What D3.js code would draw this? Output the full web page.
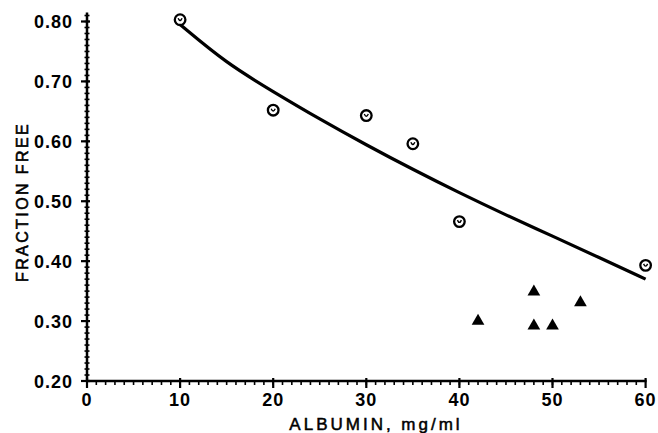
<!DOCTYPE html>
<html>
<head>
<meta charset="utf-8">
<script src="https://cdn.jsdelivr.net/npm/d3@7"></script>
<style>
  body { margin: 0; background: #fff; }
  text { font-family: "Liberation Sans", Arial, sans-serif; fill: #000; }
</style>
</head>
<body>
<div id="chart"></div>
<script>
// données
const albuminFree = [10, 20, 30, 35, 40, 60];
const fractionFree = [0.803, 0.652, 0.643, 0.596, 0.466, 0.393];

const albuminTri = [42, 48, 48, 50, 53];
const fractionTri = [0.300, 0.349, 0.292, 0.292, 0.331];

// courbe ajustée, points
const curveX = [10, 15, 20, 25, 30, 35, 40, 45, 50, 55, 60];
const curveY = [0.795, 0.730, 0.683, 0.637, 0.594, 0.553, 0.514, 0.477, 0.442, 0.406, 0.370];

const xTicks = [0, 10, 20, 30, 40, 50, 60];
const yTicks = [0.20, 0.30, 0.40, 0.50, 0.60, 0.70, 0.80];

const svg = d3.select("#chart").append("svg")
    .attr("width", 658).attr("height", 433);

const x = d3.scaleLinear().domain([0, 60]).range([87, 645.6]);
const y = d3.scaleLinear().domain([0.2, 0.8]).range([381, 21.5]);

// axe Y
const yAxis = svg.append("g").attr("transform", "translate(" + x(0) + ",0)");
yAxis.append("line")
    .attr("x1", 0).attr("x2", 0).attr("y1", y(0.2)).attr("y2", y(0.815))
    .attr("stroke", "black").attr("stroke-width", 2.5);
yAxis.selectAll("line.minor")
    .data(d3.range(21, 82).map(d => d / 100))
    .enter().append("line").attr("class", "minor")
    .attr("x1", -2.5).attr("x2", 2.5)
    .attr("y1", d => y(d)).attr("y2", d => y(d))
    .attr("stroke", "black").attr("stroke-width", 1.6);
yAxis.selectAll("line.major")
    .data(yTicks).enter().append("line").attr("class", "major")
    .attr("x1", -6).attr("x2", 3)
    .attr("y1", d => y(d)).attr("y2", d => y(d))
    .attr("stroke", "black").attr("stroke-width", 2.2);
yAxis.selectAll("text")
    .data(yTicks).enter().append("text")
    .attr("x", -14).attr("y", d => y(d) + 6.5)
    .attr("text-anchor", "end")
    .style("font-size", "18px").style("font-weight", "bold").style("letter-spacing", "1px")
    .text(d => d3.format(".2f")(d));

// axe X
const xAxis = svg.append("g").attr("transform", "translate(0," + y(0.2) + ")");
xAxis.append("line")
    .attr("x1", x(0) - 1).attr("x2", x(60) + 1).attr("y1", 0).attr("y2", 0)
    .attr("stroke", "black").attr("stroke-width", 2.5);
xAxis.selectAll("line.minor")
    .data(d3.range(1, 60)).enter().append("line").attr("class", "minor")
    .attr("x1", d => x(d)).attr("x2", d => x(d))
    .attr("y1", 0).attr("y2", 4)
    .attr("stroke", "black").attr("stroke-width", 1.6);
xAxis.selectAll("line.major")
    .data(xTicks).enter().append("line").attr("class", "major")
    .attr("x1", d => x(d)).attr("x2", d => x(d))
    .attr("y1", -3).attr("y2", 7)
    .attr("stroke", "black").attr("stroke-width", 2.2);
xAxis.selectAll("text")
    .data(xTicks).enter().append("text")
    .attr("x", d => x(d)).attr("y", 25)
    .attr("text-anchor", "middle")
    .style("font-size", "18px").style("font-weight", "bold").style("letter-spacing", "1px")
    .text(d => d);

// titres des axes
svg.append("text")
    .attr("x", 376).attr("y", 430)
    .attr("text-anchor", "middle")
    .style("font-size", "17px").style("letter-spacing", "3px")
    .attr("stroke", "black").attr("stroke-width", 0.5)
    .text("ALBUMIN, mg/ml");
svg.append("text")
    .attr("transform", "translate(28,202) rotate(-90)")
    .attr("text-anchor", "middle")
    .style("font-size", "16px").style("letter-spacing", "2.4px")
    .attr("stroke", "black").attr("stroke-width", 0.6)
    .text("FRACTION FREE");

// courbe
const line = d3.line().curve(d3.curveBasis)
    .x(d => x(d[0])).y(d => y(d[1]));
svg.append("path")
    .datum(curveX.map((d, i) => [d, curveY[i]]))
    .attr("d", line)
    .attr("fill", "none").attr("stroke", "black").attr("stroke-width", 3.2);

// cercles
const cercles = svg.append("g");
albuminFree.forEach((a, i) => {
    const cx = x(a), cy = y(fractionFree[i]);
    cercles.append("circle")
        .attr("cx", cx).attr("cy", cy).attr("r", 5.3)
        .attr("fill", "white").attr("stroke", "black").attr("stroke-width", 2.3);
    cercles.append("path")
        .attr("d", "M" + (cx - 2) + "," + (cy - 1.5) + " Q" + cx + "," + (cy + 3) + " " + (cx + 2) + "," + (cy - 1.5))
        .attr("fill", "none").attr("stroke", "black").attr("stroke-width", 1.4);
});

// triangles
const tri = d3.symbol().type(d3.symbolTriangle).size(70);
svg.append("g").selectAll("path")
    .data(albuminTri.map((d, i) => [d, fractionTri[i]]))
    .enter().append("path")
    .attr("d", tri)
    .attr("transform", d => "translate(" + x(d[0]) + "," + y(d[1]) + ")")
    .attr("fill", "black");
</script>
</body>
</html>
